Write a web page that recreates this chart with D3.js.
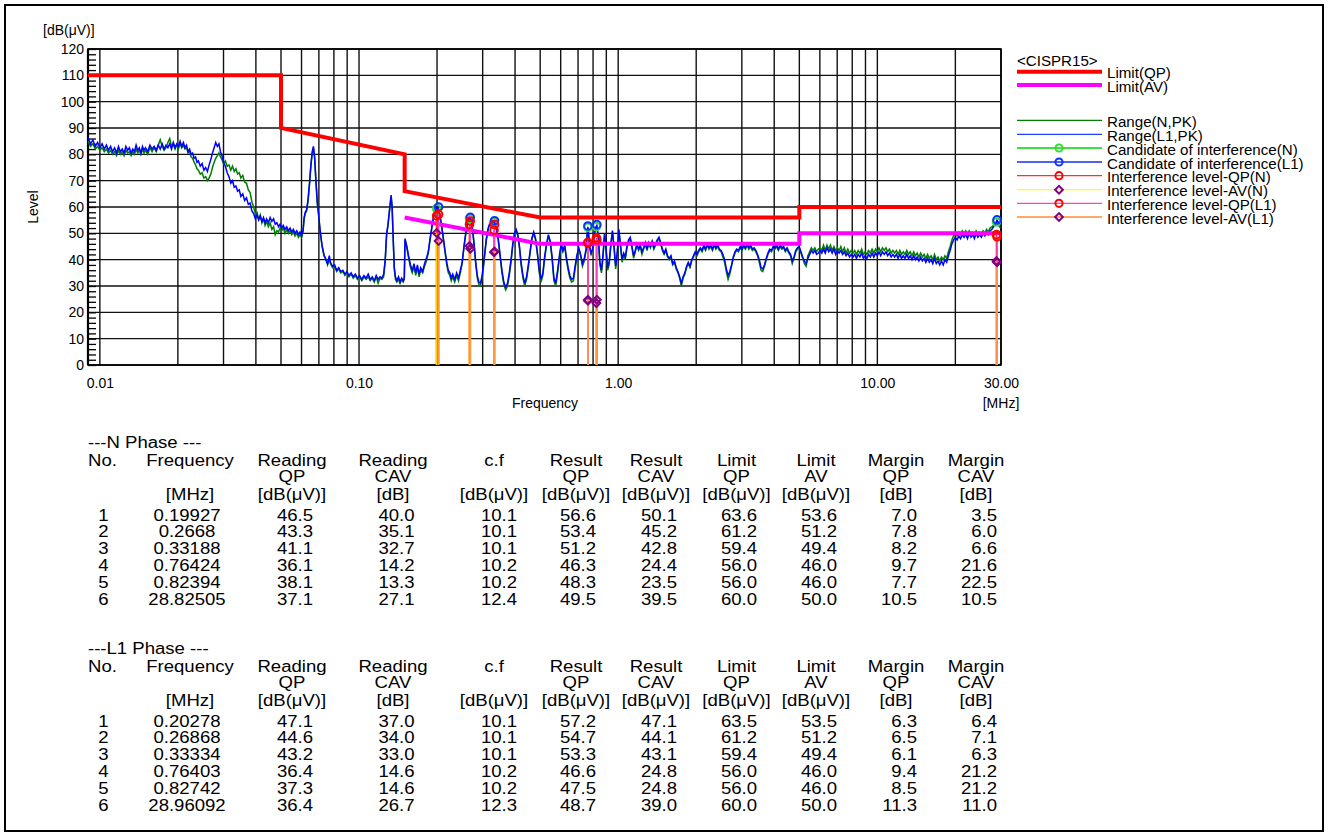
<!DOCTYPE html>
<meta charset="utf-8">
<head>
  <title>Conducted emission CISPR15</title>
</head>

<style>
body {
  margin: 0;
  background: #fff;
  font-family: "Liberation Sans", Arial, sans-serif;
}
svg text { fill: #000; }
</style>

<body>
  <div id="content">
    <svg width="1328" height="836"></svg>
  </div>

  <script src="https://cdnjs.cloudflare.com/ajax/libs/d3/7.8.5/d3.min.js"></script>

  <script>
// ---- spectrum (MHz / dB(uV)) ----
var freqs = [
  0.0090,0.0092,0.0094,0.0096,0.0098,0.0100,0.0102,0.0104,0.0106,0.0108,
  0.0110,0.0112,0.0114,0.0116,0.0118,0.0120,0.0122,0.0124,0.0126,0.0128,
  0.0130,0.0132,0.0134,0.0136,0.0138,0.0140,0.0142,0.0144,0.0146,0.0148,
  0.0150,0.0153,0.0156,0.0159,0.0162,0.0165,0.0168,0.0171,0.0174,0.0177,
  0.0180,0.0183,0.0186,0.0189,0.0192,0.0195,0.0198,0.0201,0.0204,0.0207,
  0.0210,0.0213,0.0216,0.0219,0.0222,0.0225,0.0228,0.0231,0.0234,0.0237,
  0.0240,0.0244,0.0248,0.0252,0.0256,0.0260,0.0264,0.0268,0.0272,0.0276,
  0.0280,0.0284,0.0288,0.0292,0.0296,0.0300,0.0305,0.0310,0.0315,0.0320,
  0.0325,0.0330,0.0335,0.0340,0.0345,0.0350,0.0356,0.0362,0.0368,0.0374,
  0.0380,0.0386,0.0392,0.0398,0.0404,0.0410,0.0416,0.0422,0.0428,0.0434,
  0.0440,0.0447,0.0454,0.0461,0.0468,0.0475,0.0482,0.0489,0.0496,0.0503,
  0.0510,0.0518,0.0526,0.0534,0.0542,0.0550,0.0558,0.0566,0.0575,0.0584,
  0.0592,0.0600,0.0608,0.0614,0.0620,0.0628,0.0636,0.0644,0.0652,0.0660,
  0.0667,0.0674,0.0682,0.0690,0.0698,0.0708,0.0720,0.0732,0.0744,0.0756,
  0.0768,0.0776,0.0790,0.0805,0.0820,0.0835,0.0850,0.0866,0.0882,0.0898,
  0.0915,0.0932,0.0950,0.0968,0.0986,0.1005,0.1025,0.1045,0.1065,0.1085,
  0.1105,0.1125,0.1145,0.1165,0.1185,0.1205,0.1225,0.1245,0.1262,0.1278,
  0.1292,0.1305,0.1318,0.1330,0.1342,0.1355,0.1368,0.1382,0.1400,0.1420,
  0.1440,0.1460,0.1480,0.1495,0.1505,0.1530,0.1555,0.1580,0.1605,0.1630,
  0.1655,0.1680,0.1705,0.1730,0.1760,0.1790,0.1820,0.1850,0.1880,0.1910,
  0.1940,0.1970,0.2000,0.2030,0.2060,0.2090,0.2120,0.2150,0.2180,0.2210,
  0.2240,0.2270,0.2300,0.2340,0.2380,0.2420,0.2460,0.2500,0.2540,0.2580,
  0.2620,0.2660,0.2700,0.2740,0.2780,0.2820,0.2860,0.2900,0.2940,0.2980,
  0.3020,0.3060,0.3100,0.3150,0.3200,0.3250,0.3330,0.3380,0.3440,0.3500,
  0.3560,0.3620,0.3680,0.3740,0.3800,0.3860,0.3920,0.3980,0.4040,0.4100,
  0.4160,0.4220,0.4290,0.4360,0.4430,0.4500,0.4570,0.4640,0.4720,0.4800,
  0.4880,0.4960,0.5040,0.5120,0.5200,0.5290,0.5380,0.5470,0.5560,0.5650,
  0.5740,0.5840,0.5940,0.6030,0.6120,0.6220,0.6310,0.6410,0.6510,0.6610,
  0.6720,0.6830,0.6940,0.7050,0.7160,0.7280,0.7400,0.7520,0.7580,0.7640,
  0.7700,0.7760,0.7860,0.7960,0.8060,0.8160,0.8270,0.8380,0.8500,0.8620,
  0.8740,0.8860,0.8980,0.9110,0.9240,0.9370,0.9500,0.9640,0.9780,0.9920,
  1.006,1.020,1.035,1.050,1.065,1.081,1.097,1.113,1.130,1.147,
  1.164,1.181,1.199,1.217,1.235,1.254,1.273,1.292,1.312,1.332,
  1.352,1.373,1.394,1.415,1.437,1.459,1.481,1.504,1.527,1.550,
  1.574,1.598,1.623,1.648,1.674,1.700,1.726,1.753,1.780,1.808,
  1.836,1.864,1.893,1.922,1.952,1.982,2.013,2.044,2.075,2.107,
  2.140,2.173,2.207,2.241,2.276,2.311,2.347,2.383,2.420,2.458,
  2.496,2.535,2.574,2.614,2.655,2.696,2.738,2.780,2.823,2.867,
  2.912,2.957,3.003,3.050,3.097,3.145,3.194,3.244,3.294,3.345,
  3.397,3.450,3.503,3.558,3.613,3.669,3.726,3.784,3.843,3.903,
  3.963,4.025,4.087,4.151,4.215,4.281,4.347,4.415,4.484,4.553,
  4.624,4.696,4.769,4.843,4.918,4.995,5.072,5.151,5.231,5.313,
  5.395,5.479,5.564,5.650,5.738,5.827,5.918,6.010,6.103,6.198,
  6.294,6.392,6.491,6.592,6.694,6.798,6.904,7.011,7.120,7.231,
  7.343,7.457,7.573,7.691,7.810,7.931,8.054,8.179,8.306,8.435,
  8.566,8.699,8.834,8.971,9.111,9.252,9.396,9.542,9.690,9.841,
  9.994,10.149,10.307,10.467,10.629,10.794,10.962,11.132,11.305,11.481,
  11.659,11.840,12.024,12.211,12.401,12.593,12.789,12.987,13.189,13.394,
  13.602,13.813,14.028,14.246,14.467,14.692,14.920,15.152,15.387,15.626,
  15.869,16.115,16.366,16.620,16.878,17.140,17.406,17.677,17.952,18.230,
  18.514,18.801,19.093,19.390,19.691,19.997,20.308,20.623,20.943,21.269,
  21.599,21.935,22.275,22.621,22.973,23.330,23.692,24.060,24.434,24.813,
  25.199,25.590,25.988,26.391,26.801,27.218,27.640,28.070,28.506,28.960,
  29.400,29.856
];

var levelN = [
  85,83,84,82,83,81.5,82.5,81,82,80.5,
  81.5,80,81,79.5,81.5,80,81,79.5,81.5,80.5,
  81,79.5,81,80,82,80.5,81.5,80,82,80.5,
  81.5,80,82.5,81,82.5,81,83.5,85.5,83,81.5,
  82.5,84.5,86,83,84,82,83.5,82,84,82.5,
  83.5,82,82.5,80.5,81,79,78.5,77,76,74.5,
  74,72.5,73,71,71.5,70,71,72.5,75,77,
  78.5,79.5,80.5,79,78,76.5,77.5,75.5,76,74,
  75.5,73.5,74.5,72.5,73,71,72,69.5,69,66.5,
  65.5,62,60,57.5,58,55.5,57,54,55.5,53,
  54.5,52.5,54,51.5,52.5,49.5,51,50.5,52,51,
  52,50,51.5,50,51,49.5,50.5,49,50,48.5,
  49.5,48.5,50.5,55.5,57.5,58.5,62.5,68.5,75.5,80.5,
  82.5,78.5,69.5,61.5,57,50.5,45,41.5,40.5,38,
  40,38.5,37,37.5,35.5,36.5,35,35.5,34,35,
  33.5,34.5,33,34,32.5,33.5,32,33.5,32.5,33.5,
  32,33,31.5,33.5,31,33,32.5,33.5,39.5,49.5,
  52.5,56.5,60.5,64,59.5,47.5,36.5,32.5,31.5,32.5,
  31,32.5,31.5,32.5,47.5,44.5,40.5,37,35,37.5,
  34,37,33.5,36,35,37.5,39.5,42.5,47.5,52,
  56,58.5,59.5,58.5,55.5,51.5,47,42.5,38,35,
  34,32,33.5,31.5,34,32,35,38.5,44.5,49.5,
  53.5,55.5,55,51.5,45.5,38.5,33,30.5,30,32.5,
  37,42.5,47.5,51.5,53.5,54.5,54,52,48,41.5,
  35,30.5,28.5,30,34,39,45.5,49.5,51,49,
  44.5,38,33,30,32.5,37,42.5,47.5,50,47.5,
  42,35,31.5,34,40,45.5,49,46.5,40,32,
  30,35,41,45.5,43,45,40,36,33,31.5,
  32,37,41,44,41.5,37.5,39.5,43.5,48.5,52,
  48.5,44.5,42,43.5,48,51.5,52.5,48.5,38,35,
  41,49.5,43.5,36,38.5,45.5,50.5,44.5,36.5,42,
  51,45.5,39,42,40,44.5,47,48,44.5,40.5,
  43,45.5,43.5,45,42,44,46,43.5,46,44.5,
  46.5,44,45.5,47,48,46,43.5,42,43.5,41,
  40,41,38,39,36.5,35,33,30,33,34.5,
  37,38.5,37,39.5,41,42.5,41.5,43,44,43,
  45,43.5,45.5,44,45,43.5,45.5,44,45,43.5,
  43,41,39,35.5,32.5,34.5,37.5,40.5,42.5,43.5,
  43,44.5,43.5,45,44,45.5,44,45,43.5,44,
  43,41.5,39,36,35.5,37.5,40,42,43.5,43,
  44.5,44,45,43.5,45,44,44.5,43,44,42.5,
  41.5,38.5,40.5,43,44,44.5,42.5,40.5,38.5,37.5,
  41.5,43,44.5,43.5,44.5,43,44,44.5,43.5,45.5,
  43.5,45.5,44,45.5,43.5,45,43.5,44.5,43.5,45,
  43,44.5,42.5,44,42.5,43.5,42.5,43.5,42,43.5,
  42.5,44,42,43,42,43.5,42.5,44,42.5,44,
  43,44.5,43,44.5,43.5,44.5,43,44,42.5,43.5,
  42.5,43.5,42,43.5,42,43,42,43.5,42,43,
  41.5,43,41.5,42.5,41,42.5,41,42,40.5,42,
  40.5,41.5,40,42,40,41,39.5,41,40,41.5,
  40.5,43,45,47.5,49,50,49,50.5,49.5,51,
  50,51,49.5,51,50,50.5,49.5,51,50,50.5,
  49.5,51,50,51.5,50.5,52,52.5,53,53.5,54,
  53,52
];

var levelL1 = [
  86.5,84,85.5,83,84.5,82.5,84,82,83.5,81.5,
  83,81,82.5,80.5,83,81,82,80.5,83,81.5,
  82.5,80.5,82,81,83.5,81.5,82.5,80.5,83,81.5,
  82.5,81,83.5,82,83,81.5,83.5,82,84,82,
  83.5,82.5,84,82,84.5,82.5,84,83,85,83,
  84.5,82.5,83.5,81,82,80,80.5,78.5,79,77,
  77.5,75.5,76.5,74,75,73.5,76,78,80.5,82.5,
  84.5,83,84,81,79.5,77,75.5,73,71.5,69,
  70,67.5,68,66,66.5,64,65,62.5,63.5,61,
  61.5,58.5,57.5,55.5,57,55,56.5,54.5,56,54,
  55.5,54,56,54.5,55.5,53.5,54,52.5,53.5,52,
  53,51.5,52.5,51,52,50.5,51.5,50,51,49.5,
  50.5,49,51,56,58,59,63,69,76,81,
  83,79,70,62,57.5,51,45.5,42,40,38.5,
  41.5,39,37.5,38,36,37,35.5,36,34.5,35.5,
  34,35,33.5,34.5,33,34,32.5,34,33,34.5,
  32.5,33.5,32,34,32.5,33.5,33,34.5,40,50,
  53,57,61,64.5,60,48,37,33.5,32,33.5,
  31.5,33,32,33,48,45,41,38,36,38.5,
  35,38,34.5,37,35.5,38.5,40.5,43,48,52.5,
  56.5,59,60,59,56,52,47.5,43,39,36,
  35,33,34.5,32.5,35,33,36,39,45,50,
  54,56,55.5,52,46,39,34,31.5,31,33.5,
  38,43,48,52,54,55,54.5,52.5,48.5,42,
  36,31.5,29.5,31,35,40,46,50,51.5,49.5,
  45,39,34,31,33.5,38,43,48,50.5,48,
  42.5,36,32.5,35,41,46,49.5,47,41,33,
  31,36,42,46,43.5,45.5,41,37,34,32.5,
  33,38,42,44.5,42,38.5,40.5,44,49,52.5,
  49,45,42.5,44,48.5,52,53,49,39,36,
  42,50,44,37,39.5,46,51,45,37.5,43,
  51.5,46,40,42.5,41,45,47.5,48.5,45,41.5,
  43.5,46,44,45.5,43,44.5,46.5,44,46.5,45,
  47,44.5,46,47.5,48.5,46.5,44,42.5,44,41.5,
  40.5,41.5,38.5,39.5,37,35.5,33.5,31,33.5,35,
  37.5,39,37.5,40,41.5,43,42,43.5,44.5,43.5,
  45.5,44,46,44.5,45.5,44,46,44.5,45.5,44,
  43.5,42,40,36.5,34,35.5,38,41,43,44,
  43.5,45,44,45.5,44.5,46,44.5,45.5,44,44.5,
  43.5,42,40,37,36.5,38,40.5,42.5,44,43.5,
  45,44.5,45.5,44,45.5,44.5,45,43.5,44.5,43,
  42,39.5,41,43.5,44.5,45,43,41,39.5,38.5,
  40.5,42,43.5,42.5,43.5,42,42.5,43.5,42.5,44,
  42.5,44.5,43,44,42.5,44,42,43.5,42.5,43.5,
  42,43,41.5,42.5,41,42,41,42,40.5,42,
  41,42.5,40.5,41.5,40.5,42,41,42.5,41,42.5,
  41.5,43,41.5,43,42,43,41.5,42.5,41,42,
  41,42,40.5,42,40.5,41.5,40.5,42,40.5,41.5,
  40,41.5,40,41,39.5,41,39.5,40.5,39,40.5,
  39,40,38.5,40.5,38.5,39.5,38,39.5,38,40,
  39,41.5,43.5,46,47.5,48.5,47.5,49,48,49.5,
  48.5,49.5,48,50,48.5,49.5,48,50,48.5,49.5,
  48.5,50,49,50.5,49.5,51,51.5,52.5,53.5,55,
  54,53
];

// ---- CISPR15 limits ----
var limitQPFreq  = [0.009, 0.05, 0.05, 0.15, 0.15, 0.5, 5, 5, 30];
var limitQPLevel = [110, 110, 90, 80, 66, 56, 56, 60, 60];
var limitAVFreq  = [0.15, 0.5, 5, 5, 30];
var limitAVLevel = [56, 46, 46, 50, 50];

// ---- measured points ----
var nFreq    = [0.19927, 0.2668, 0.33188, 0.76424, 0.82394, 28.82505];
var nCand    = [59.4, 55.6, 54.2, 52.3, 52.6, 54.3];
var nReadQP  = [46.5, 43.3, 41.1, 36.1, 38.1, 37.1];
var nReadCAV = [40.0, 35.1, 32.7, 14.2, 13.3, 27.1];
var nCf      = [10.1, 10.1, 10.1, 10.2, 10.2, 12.4];
var nResQP   = [56.6, 53.4, 51.2, 46.3, 48.3, 49.5];
var nResCAV  = [50.1, 45.2, 42.8, 24.4, 23.5, 39.5];
var nLimQP   = [63.6, 61.2, 59.4, 56.0, 56.0, 60.0];
var nLimAV   = [53.6, 51.2, 49.4, 46.0, 46.0, 50.0];
var nMarQP   = [7.0, 7.8, 8.2, 9.7, 7.7, 10.5];
var nMarCAV  = [3.5, 6.0, 6.6, 21.6, 22.5, 10.5];

var l1Freq    = [0.20278, 0.26868, 0.33334, 0.76403, 0.82742, 28.96092];
var l1Cand    = [60.0, 56.1, 54.8, 52.8, 53.3, 55.1];
var l1ReadQP  = [47.1, 44.6, 43.2, 36.4, 37.3, 36.4];
var l1ReadCAV = [37.0, 34.0, 33.0, 14.6, 14.6, 26.7];
var l1Cf      = [10.1, 10.1, 10.1, 10.2, 10.2, 12.3];
var l1ResQP   = [57.2, 54.7, 53.3, 46.6, 47.5, 48.7];
var l1ResCAV  = [47.1, 44.1, 43.1, 24.8, 24.8, 39.0];
var l1LimQP   = [63.5, 61.2, 59.4, 56.0, 56.0, 60.0];
var l1LimAV   = [53.5, 51.2, 49.4, 46.0, 46.0, 50.0];
var l1MarQP   = [6.3, 6.5, 6.1, 9.4, 8.5, 11.3];
var l1MarCAV  = [6.4, 7.1, 6.3, 21.2, 21.2, 11.0];

var xTickFreqs  = [0.01, 0.1, 1, 10, 30];
var xTickLabels = ['0.01', '0.10', '1.00', '10.00', '30.00'];
var yTicks = [0, 10, 20, 30, 40, 50, 60, 70, 80, 90, 100, 110, 120];

var legendTitle  = '<CISPR15>';
var legendLabels = ['Limit(QP)', 'Limit(AV)', 'Range(N,PK)', 'Range(L1,PK)',
  'Candidate of interference(N)', 'Candidate of interference(L1)',
  'Interference level-QP(N)', 'Interference level-AV(N)',
  'Interference level-QP(L1)', 'Interference level-AV(L1)'];

var svg = d3.select('#content svg');

var x = d3.scaleLog().domain([0.009, 30]).range([88, 1001]);
var y = d3.scaleLinear().domain([0, 120]).range([365, 49]);

// outer frame
svg.append('rect')
  .attr('x', 5).attr('y', 5).attr('width', 1318).attr('height', 826)
  .attr('fill', 'none').attr('stroke', '#000').attr('stroke-width', 2);

// grid
var gridFreqs = x.ticks().filter(function(f) { return f >= 0.0099; });
svg.append('g').selectAll('line').data(gridFreqs).enter().append('line')
  .attr('x1', function(d) { return x(d); }).attr('x2', function(d) { return x(d); })
  .attr('y1', y(0)).attr('y2', y(120))
  .attr('stroke', '#111').attr('stroke-width', 1.4);

svg.append('g').selectAll('line').data(yTicks).enter().append('line')
  .attr('x1', x(0.009)).attr('x2', x(30))
  .attr('y1', function(d) { return y(d); }).attr('y2', function(d) { return y(d); })
  .attr('stroke', '#111').attr('stroke-width', 1.4);

// minor ticks (2 dB)
var minorAxis = d3.axisRight(y).tickValues(d3.range(0, 121, 2)).tickSize(8).tickFormat('');
var gMinor = svg.append('g').attr('transform', 'translate(' + x(0.009) + ',0)').call(minorAxis);
gMinor.selectAll('line').attr('stroke', '#000').attr('stroke-width', 1.3);
gMinor.select('.domain').remove();

// plot frame
svg.append('rect')
  .attr('x', x(0.009)).attr('y', y(120))
  .attr('width', x(30) - x(0.009)).attr('height', y(0) - y(120))
  .attr('fill', 'none').attr('stroke', '#000').attr('stroke-width', 1.6);
svg.append('line')
  .attr('x1', x(0.009)).attr('x2', x(0.009)).attr('y1', y(0)).attr('y2', y(120))
  .attr('stroke', '#000').attr('stroke-width', 2.2);

// y axis labels
var yAxis = d3.axisLeft(y).tickValues(yTicks).tickSize(0).tickPadding(4);
var gY = svg.append('g').attr('transform', 'translate(' + x(0.009) + ',0)').call(yAxis);
gY.select('.domain').remove();
gY.selectAll('text').attr('font-size', 14).attr('font-family', '"Liberation Sans", Arial, sans-serif').attr('fill', '#000');

// x axis labels
var xAxis = d3.axisBottom(x).tickValues(xTickFreqs)
  .tickFormat(function(d, i) { return xTickLabels[i]; })
  .tickSize(0).tickPadding(13);
var gX = svg.append('g').attr('transform', 'translate(0,' + y(0) + ')').call(xAxis);
gX.select('.domain').remove();
gX.selectAll('text').attr('font-size', 14).attr('font-family', '"Liberation Sans", Arial, sans-serif').attr('fill', '#000');

svg.append('text').attr('x', 43).attr('y', 35).attr('font-size', 14).text('[dB(\u03bcV)]');
svg.append('text').attr('transform', 'translate(38,207) rotate(-90)')
  .attr('text-anchor', 'middle').attr('font-size', 14).text('Level');
svg.append('text').attr('x', 545).attr('y', 408).attr('text-anchor', 'middle')
  .attr('font-size', 14).text('Frequency');
svg.append('text').attr('x', 1001).attr('y', 408).attr('text-anchor', 'middle')
  .attr('font-size', 14).text('[MHz]');

// traces
var line = d3.line()
  .x(function(d) { return x(d[0]); })
  .y(function(d) { return y(d[1]); });

var ptsN = freqs.map(function(f, i) { return [f, levelN[i]]; });
var ptsL1 = freqs.map(function(f, i) { return [f, levelL1[i]]; });

svg.append('path').datum(ptsN).attr('d', line)
  .attr('fill', 'none').attr('stroke', '#008000').attr('stroke-width', 1.5);
svg.append('path').datum(ptsL1).attr('d', line)
  .attr('fill', 'none').attr('stroke', '#0000ff').attr('stroke-width', 1.5);

// limits
svg.append('path').datum(limitQPFreq.map(function(f, i) { return [f, limitQPLevel[i]]; }))
  .attr('d', line).attr('fill', 'none').attr('stroke', '#ff0000').attr('stroke-width', 4);
svg.append('path').datum(limitAVFreq.map(function(f, i) { return [f, limitAVLevel[i]]; }))
  .attr('d', line).attr('fill', 'none').attr('stroke', '#ff00ff').attr('stroke-width', 4);

// interference stems and markers
var diamond = d3.symbol().type(d3.symbolSquare).size(30);

function stems(fr, vals, color) {
  svg.append('g').selectAll('line').data(fr).enter().append('line')
    .attr('x1', function(d) { return x(d); }).attr('x2', function(d) { return x(d); })
    .attr('y1', function(d, i) { return y(vals[i]); }).attr('y2', y(0))
    .attr('stroke', color).attr('stroke-width', 1.7);
}
function circles(fr, vals, color) {
  svg.append('g').selectAll('circle').data(fr).enter().append('circle')
    .attr('cx', function(d) { return x(d); })
    .attr('cy', function(d, i) { return y(vals[i]); })
    .attr('r', 3.8).attr('fill', 'none').attr('stroke', color).attr('stroke-width', 2);
}
function diamonds(fr, vals) {
  svg.append('g').selectAll('path').data(fr).enter().append('path')
    .attr('d', diamond)
    .attr('transform', function(d, i) { return 'translate(' + x(d) + ',' + y(vals[i]) + ') rotate(45)'; })
    .attr('fill', 'none').attr('stroke', '#800080').attr('stroke-width', 2);
}

stems(nFreq, nResQP, '#ff3030');
stems(nFreq, nResCAV, '#ffd000');
stems(l1Freq, l1ResQP, '#ff40c0');
stems(l1Freq, l1ResCAV, '#ff9a40');
circles(nFreq, nCand, '#30e030');
circles(l1Freq, l1Cand, '#1030ff');
circles(nFreq, nResQP, '#ff0000');
diamonds(nFreq, nResCAV);
circles(l1Freq, l1ResQP, '#ff0000');
diamonds(l1Freq, l1ResCAV);

// legend
var legendStyle = [
  {c: '#ff0000', w: 4}, {c: '#ff00ff', w: 4},
  {c: '#008000', w: 1.3}, {c: '#2040ff', w: 1.3},
  {c: '#40e040', w: 1.8, m: 'o', mc: '#30e030'}, {c: '#5060ff', w: 1.8, m: 'o', mc: '#1030ff'},
  {c: '#ff3030', w: 1.3, m: 'o', mc: '#ff0000'}, {c: '#ffff00', w: 1.3, m: 'd'},
  {c: '#ff40d0', w: 1.3, m: 'o', mc: '#ff0000'}, {c: '#ffa868', w: 1.8, m: 'd'}
];
var legendY = [71.7, 85, 120.3, 134.3, 148, 162, 175.7, 189.7, 203.3, 217];

svg.append('text').attr('transform', 'translate(1017,66) scale(1.08,1)')
  .attr('font-size', 14).text(legendTitle);

var leg = svg.append('g').selectAll('g').data(legendLabels).enter().append('g')
  .attr('transform', function(d, i) { return 'translate(0,' + legendY[i] + ')'; });
leg.append('line').attr('x1', 1017).attr('x2', 1102)
  .attr('stroke', function(d, i) { return legendStyle[i].c; })
  .attr('stroke-width', function(d, i) { return legendStyle[i].w; });
leg.append('text').attr('transform', 'translate(1107,6.5) scale(1.08,1)')
  .attr('font-size', 14).text(function(d) { return d; });
leg.filter(function(d, i) { return legendStyle[i].m === 'o'; }).append('circle')
  .attr('cx', 1059).attr('r', 3.6).attr('fill', 'none')
  .attr('stroke', function(d) { return legendStyle[legendLabels.indexOf(d)].mc; })
  .attr('stroke-width', 2);
leg.filter(function(d, i) { return legendStyle[i].m === 'd'; }).append('path')
  .attr('d', diamond).attr('transform', 'translate(1059,0) rotate(45)')
  .attr('fill', 'none').attr('stroke', '#800080').attr('stroke-width', 2);

// tables
var fmt1 = function(v) { return v.toFixed(1); };
var columns = [
  {h: ['No.', '', ''], hx: 88, ha: 'start', vx: 103.5, va: 'middle'},
  {h: ['Frequency', '', '[MHz]'], hx: 190, ha: 'middle', vx: 187, va: 'middle'},
  {h: ['Reading', 'QP', '[dB(\u03bcV)]'], hx: 292, ha: 'middle', vx: 295, va: 'middle'},
  {h: ['Reading', 'CAV', '[dB]'], hx: 393, ha: 'middle', vx: 396.5, va: 'middle'},
  {h: ['c.f', '', '[dB(\u03bcV)]'], hx: 494, ha: 'middle', vx: 499, va: 'middle'},
  {h: ['Result', 'QP', '[dB(\u03bcV)]'], hx: 576, ha: 'middle', vx: 578, va: 'middle'},
  {h: ['Result', 'CAV', '[dB(\u03bcV)]'], hx: 656, ha: 'middle', vx: 659, va: 'middle'},
  {h: ['Limit', 'QP', '[dB(\u03bcV)]'], hx: 736.5, ha: 'middle', vx: 739, va: 'middle'},
  {h: ['Limit', 'AV', '[dB(\u03bcV)]'], hx: 816, ha: 'middle', vx: 819, va: 'middle'},
  {h: ['Margin', 'QP', '[dB]'], hx: 896, ha: 'middle', vx: 917, va: 'end'},
  {h: ['Margin', 'CAV', '[dB]'], hx: 976, ha: 'middle', vx: 997, va: 'end'}
];

function drawTable(title, top, cols) {
  var g = svg.append('g').attr('font-size', 16);
  function txt(s, tx, ty, anchor) {
    g.append('text').attr('transform', 'translate(' + tx + ',' + ty + ') scale(1.16,1)')
      .attr('text-anchor', anchor).text(s);
  }
  txt(title, 88, top, 'start');
  var headY = [top + 18, top + 34, top + 52];
  columns.forEach(function(c, ci) {
    c.h.forEach(function(s, k) { if (s) txt(s, c.hx, headY[k], c.ha); });
    cols[ci].forEach(function(v, r) { txt(v, c.vx, top + 73 + r * 16.8, c.va); });
  });
}

drawTable('---N Phase ---', 447.5, [
  [1, 2, 3, 4, 5, 6].map(String), nFreq.map(String),
  nReadQP.map(fmt1), nReadCAV.map(fmt1), nCf.map(fmt1), nResQP.map(fmt1), nResCAV.map(fmt1),
  nLimQP.map(fmt1), nLimAV.map(fmt1), nMarQP.map(fmt1), nMarCAV.map(fmt1)
]);
drawTable('---L1 Phase ---', 653.5, [
  [1, 2, 3, 4, 5, 6].map(String), l1Freq.map(String),
  l1ReadQP.map(fmt1), l1ReadCAV.map(fmt1), l1Cf.map(fmt1), l1ResQP.map(fmt1), l1ResCAV.map(fmt1),
  l1LimQP.map(fmt1), l1LimAV.map(fmt1), l1MarQP.map(fmt1), l1MarCAV.map(fmt1)
]);
  </script>
</body>
</html>
